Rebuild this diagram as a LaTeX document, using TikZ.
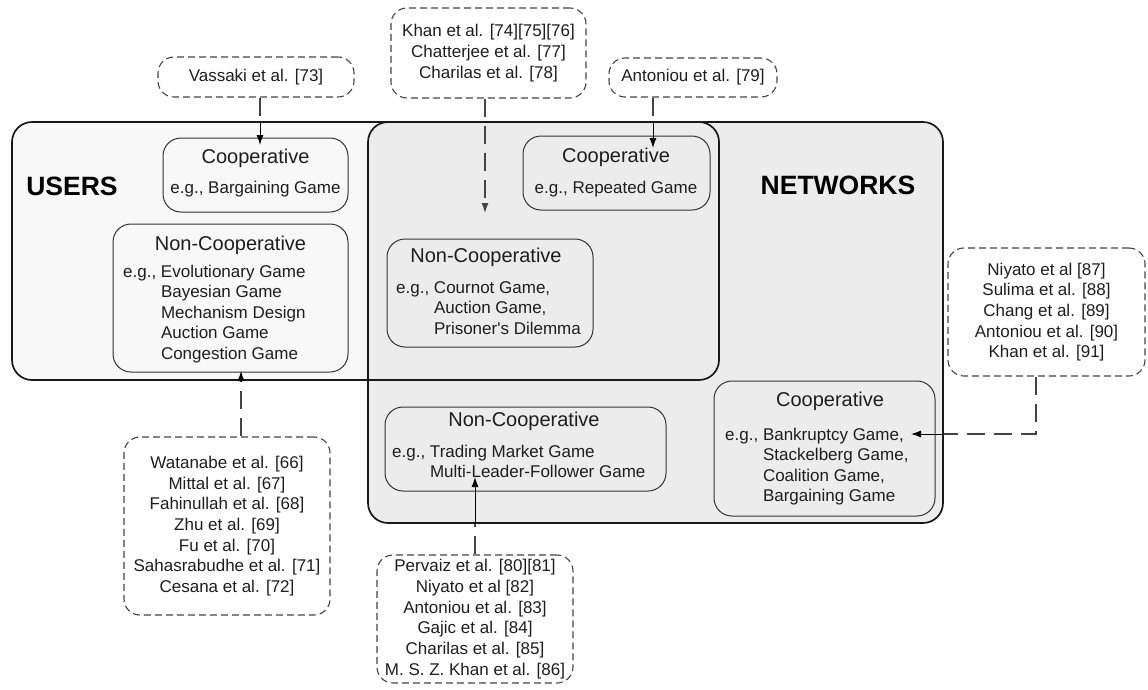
\documentclass[tikz,border=0pt]{standalone}
\usepackage{fontspec}
\setmainfont{Liberation Sans}
\usetikzlibrary{arrows.meta}
\definecolor{usersfill}{HTML}{F8F8F8}
\definecolor{netfill}{HTML}{ECECEC}
\definecolor{citeline}{HTML}{444444}
\definecolor{boxline}{HTML}{333333}
\definecolor{ink}{HTML}{1E1E1E}
\newcommand\refsfont{\fontsize{17}{20.7}\selectfont}
\newcommand\headfont{\fontsize{20}{24}\selectfont}
\newcommand\gamesfont{\fontsize{17}{20.5}\selectfont}
\newcommand\sidefont{\fontsize{26.5}{30}\selectfont\bfseries}
\begin{document}
\begin{tikzpicture}[x=1pt,y=-1pt,
  bigbox/.style={rectangle, rounded corners=20pt, line width=1.7pt, draw=black!90, inner sep=0pt},
  gamebox/.style={rectangle, rounded corners=18pt, draw=boxline, line width=1pt, inner sep=0pt},
  citebox/.style={rectangle, rounded corners=16pt, draw=citeline, line width=1.1pt,
    dash pattern=on 7pt off 4pt, fill=white, inner sep=0pt, align=center, font=\refsfont, text=ink},
  head/.style={font=\headfont, text=ink, inner sep=0pt, anchor=base},
  games/.style={font=\gamesfont, text=ink, inner sep=0pt},
  side/.style={font=\sidefont, text=black, inner sep=0pt},
  conn/.style={draw=citeline, line width=1.2pt, dash pattern=on 18pt off 9pt},
  tip/.style={draw=black, line width=1pt, -{Latex[length=10pt,width=7pt]}}]
\useasboundingbox (0,0) rectangle (1148,689);

% the two overlapping domains
\node[bigbox, draw=none, fill=usersfill, minimum width=707pt, minimum height=258pt] (users) at (365.5,251) {};
\node[bigbox, fill=netfill, minimum width=575pt, minimum height=401pt] (nets) at (655.5,322.5) {};
\node[bigbox, fill=none, minimum width=707pt, minimum height=258pt] (usersedge) at (users.center) {};

\node[side] (userslabel) at (72,186) {USERS};
\node[side] (netslabel) at (838,185) {NETWORKS};

% game classes
\node[gamebox, minimum width=185pt, minimum height=74pt] (ucoop) at (255.5,175) {};
\node[head] (ucoopT) at (255.5,163) {Cooperative};
\node[games, anchor=base] (ucoopB) at (255.5,193) {e.g., Bargaining Game};

\node[gamebox, minimum width=235pt, minimum height=148pt] (unon) at (230.5,298) {};
\node[head] (unonT) at (230.5,250) {Non-Cooperative};
\node[games, anchor=base west] (unonB) at (123,277) {\begin{tabular}[t]{@{}l@{\ }l@{}}
e.g., & Evolutionary Game\\ & Bayesian Game\\ & Mechanism Design\\ & Auction Game\\ & Congestion Game\end{tabular}};

\node[gamebox, minimum width=187pt, minimum height=74pt] (ncoop) at (616.5,173) {};
\node[head] (ncoopT) at (616,162) {Cooperative};
\node[games, anchor=base] (ncoopB) at (616,193) {e.g., Repeated Game};

\node[gamebox, minimum width=206pt, minimum height=108pt] (nnon) at (490,293) {};
\node[head] (nnonT) at (486,262) {Non-Cooperative};
\node[games, anchor=base west] (nnonB) at (396,293) {\begin{tabular}[t]{@{}l@{\ }l@{}}
e.g., & Cournot Game,\\ & Auction Game,\\ & Prisoner\textquotesingle s Dilemma\end{tabular}};

\node[gamebox, minimum width=281pt, minimum height=84pt] (lnon) at (525.5,449) {};
\node[head] (lnonT) at (524,426) {Non-Cooperative};
\node[games, anchor=base west] (lnonB) at (392,457) {\begin{tabular}[t]{@{}l@{\ }l@{}}
e.g., & Trading Market Game\\ & Multi-Leader-Follower Game\end{tabular}};

\node[gamebox, minimum width=221pt, minimum height=135pt] (lcoop) at (824.5,448.5) {};
\node[head] (lcoopT) at (830,406) {Cooperative};
\node[games, anchor=base west] (lcoopB) at (725,440) {\begin{tabular}[t]{@{}l@{\ }l@{}}
e.g., & Bankruptcy Game,\\ & Stackelberg Game,\\ & Coalition Game,\\ & Bargaining Game\end{tabular}};

% references
\node[citebox, minimum width=196pt, minimum height=40pt] (vas) at (256,77) {Vassaki et al. [73]};
\node[citebox, minimum width=195pt, minimum height=90pt] (khan) at (488.5,53) {Khan et al. [74][75][76]\\Chatterjee et al. [77]\\Charilas et al. [78]};
\node[citebox, minimum width=168pt, minimum height=39pt] (ant) at (693,77.5) {Antoniou et al. [79]};
\node[citebox, minimum width=206pt, minimum height=178pt] (wat) at (227,526) {Watanabe et al. [66]\\Mittal et al. [67]\\Fahinullah et al. [68]\\Zhu et al. [69]\\Fu et al. [70]\\Sahasrabudhe et al. [71]\\Cesana et al. [72]};
\node[citebox, minimum width=196pt, minimum height=128pt] (per) at (475,619) {Pervaiz et al. [80][81]\\Niyato et al [82]\\Antoniou et al. [83]\\Gajic et al. [84]\\Charilas et al. [85]\\M. S. Z. Khan et al. [86]};
\node[citebox, minimum width=197pt, minimum height=128pt] (niy) at (1046.5,312) {Niyato et al [87]\\Sulima et al. [88]\\Chang et al. [89]\\Antoniou et al. [90]\\Khan et al. [91]};

% connectors
\coordinate (vasOut) at ([xshift=4pt]vas.south);
\coordinate (vasEnd) at (260,145);
\draw[conn] (vasOut) -- (vasOut |- users.north);
\draw[tip] (vasOut |- users.north) -- (vasEnd);

\coordinate (khanOut) at ([xshift=-3.5pt]khan.south);
\coordinate (khanEnd) at (485,213);
\draw[conn, -{Latex[length=10pt,width=7pt]}] (khanOut) -- (khanEnd);

\coordinate (antOut) at ([xshift=-40pt]ant.south);
\coordinate (antEnd) at (653,148);
\draw[conn] (antOut) -- (antOut |- nets.north);
\draw[tip] (antOut |- nets.north) -- (antEnd);

\coordinate (watOut) at ([xshift=14pt]wat.north);
\coordinate (watEnd) at (241,371);
\draw[conn] (watOut) -- (watOut |- users.south);
\draw[tip] (watOut |- users.south) -- (watEnd);

\coordinate (perEnd) at (475,477);
\draw[conn] (per.north) -- (per.north |- nets.south);
\draw[tip] (per.north |- nets.south) -- (perEnd);

\coordinate (niyOut) at ([xshift=-10.5pt]niy.south);
\coordinate (niyEnd) at (911,434);
\draw[conn] (niyOut) |- (niyEnd -| nets.east);
\draw[tip] (niyEnd -| nets.east) -- (niyEnd);
\end{tikzpicture}
\end{document}
